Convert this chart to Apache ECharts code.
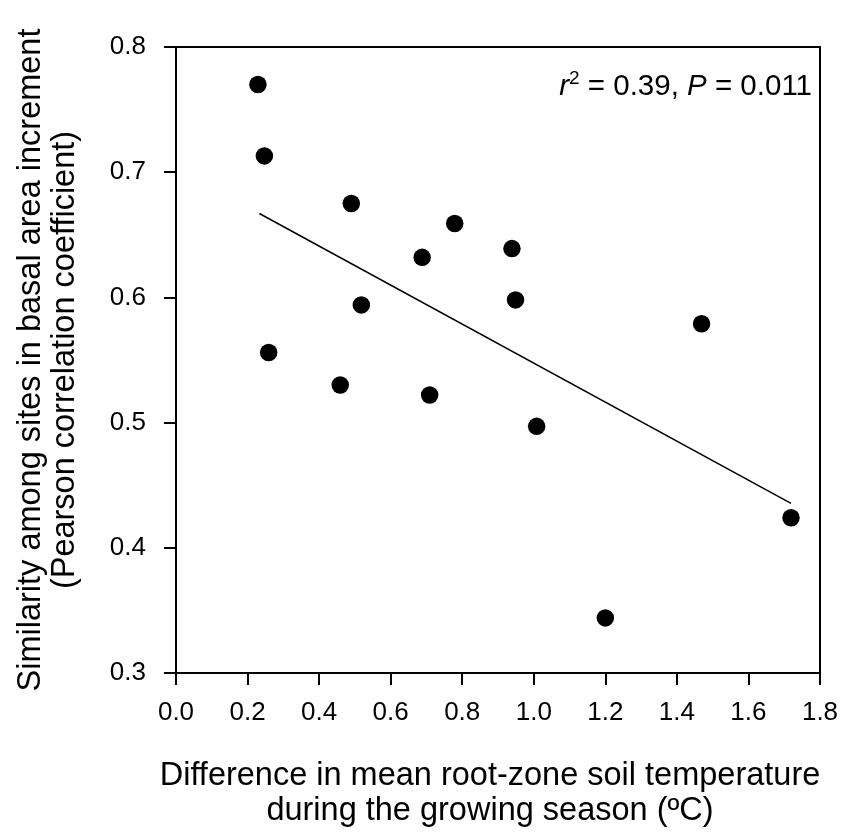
<!DOCTYPE html>
<html>
<head>
<meta charset="utf-8">
<script src="https://cdn.jsdelivr.net/npm/echarts@6/dist/echarts.min.js"></script>
<style>html,body{margin:0;padding:0;background:#fff}#c{width:852px;height:839px}</style>
</head>
<body>
<div id="c"></div>
<script>
var xValues = [0.229, 0.247, 0.259, 0.459, 0.490, 0.518, 0.688, 0.709, 0.779, 0.939, 0.949, 1.008, 1.200, 1.469, 1.719];
var yValues = [0.770, 0.713, 0.556, 0.530, 0.675, 0.594, 0.632, 0.522, 0.659, 0.639, 0.598, 0.497, 0.344, 0.579, 0.424];
var fitX = [0.233, 1.719];
var fitY = [0.667, 0.4355];
var xTicks = ['0.0','0.2','0.4','0.6','0.8','1.0','1.2','1.4','1.6','1.8'];
var yTicks = ['0.3','0.4','0.5','0.6','0.7','0.8'];

var points = xValues.map(function(x, i){ return [x, yValues[i]]; });
var fit = fitX.map(function(x, i){ return [x, fitY[i]]; });
var font = 'Liberation Sans, Arial, sans-serif';

var chart = echarts.init(document.getElementById('c'));
chart.setOption({
  backgroundColor: '#fff',
  animation: false,
  grid: { left: 176, right: 32, top: 47, bottom: 166, show: true, borderColor: '#000', borderWidth: 2, backgroundColor: 'transparent' },
  xAxis: {
    type: 'value', min: 0, max: 1.8, interval: 0.2,
    axisLine: { show: true, lineStyle: { color: '#000', width: 2 } },
    axisTick: { show: true, inside: false, length: 12, lineStyle: { color: '#000', width: 2 } },
    splitLine: { show: false },
    axisLabel: { color: '#000', fontSize: 26, fontFamily: font, margin: 27,
      formatter: function(v){ var s = v.toFixed(1); return xTicks.indexOf(s) >= 0 ? s : ''; } },
    name: 'Difference in mean root-zone soil temperature\nduring the growing season (ºC)',
    nameLocation: 'middle', nameGap: 86,
    nameTextStyle: { color: '#000', fontSize: 32.5, fontFamily: font, lineHeight: 35, padding: [0, 16, 0, 0] }
  },
  yAxis: {
    type: 'value', min: 0.3, max: 0.8, interval: 0.1,
    axisLine: { show: true, lineStyle: { color: '#000', width: 2 } },
    axisTick: { show: true, inside: false, length: 12, lineStyle: { color: '#000', width: 2 } },
    splitLine: { show: false },
    axisLabel: { color: '#000', fontSize: 26, fontFamily: font, margin: 30,
      formatter: function(v){ var s = v.toFixed(1); return yTicks.indexOf(s) >= 0 ? s : ''; } },
    name: 'Similarity among sites in basal area increment\n(Pearson correlation coefficient)',
    nameLocation: 'middle', nameGap: 94,
    nameTextStyle: { color: '#000', fontSize: 32.5, fontFamily: font, lineHeight: 34 }
  },
  series: [
    { type: 'line', data: fit, symbol: 'none', lineStyle: { color: '#000', width: 1.5 }, z: 2 },
    { type: 'scatter', data: points, symbol: 'circle', symbolSize: 17.5, itemStyle: { color: '#000', opacity: 1 }, z: 3 }
  ],
  graphic: [{
    type: 'text', right: 40, top: 69,
    style: {
      text: '{i|r}{s|2}{n| = 0.39, }{i|P}{n| = 0.011}',
      rich: {
        i: { fontStyle: 'italic', fontSize: 29.5, fontFamily: font, fill: '#000', verticalAlign: 'bottom' },
        s: { fontSize: 19, fontFamily: font, fill: '#000', verticalAlign: 'top', padding: [0,0,14,0] },
        n: { fontSize: 29.5, fontFamily: font, fill: '#000', verticalAlign: 'bottom' }
      }
    }
  }]
});
</script>
</body>
</html>
